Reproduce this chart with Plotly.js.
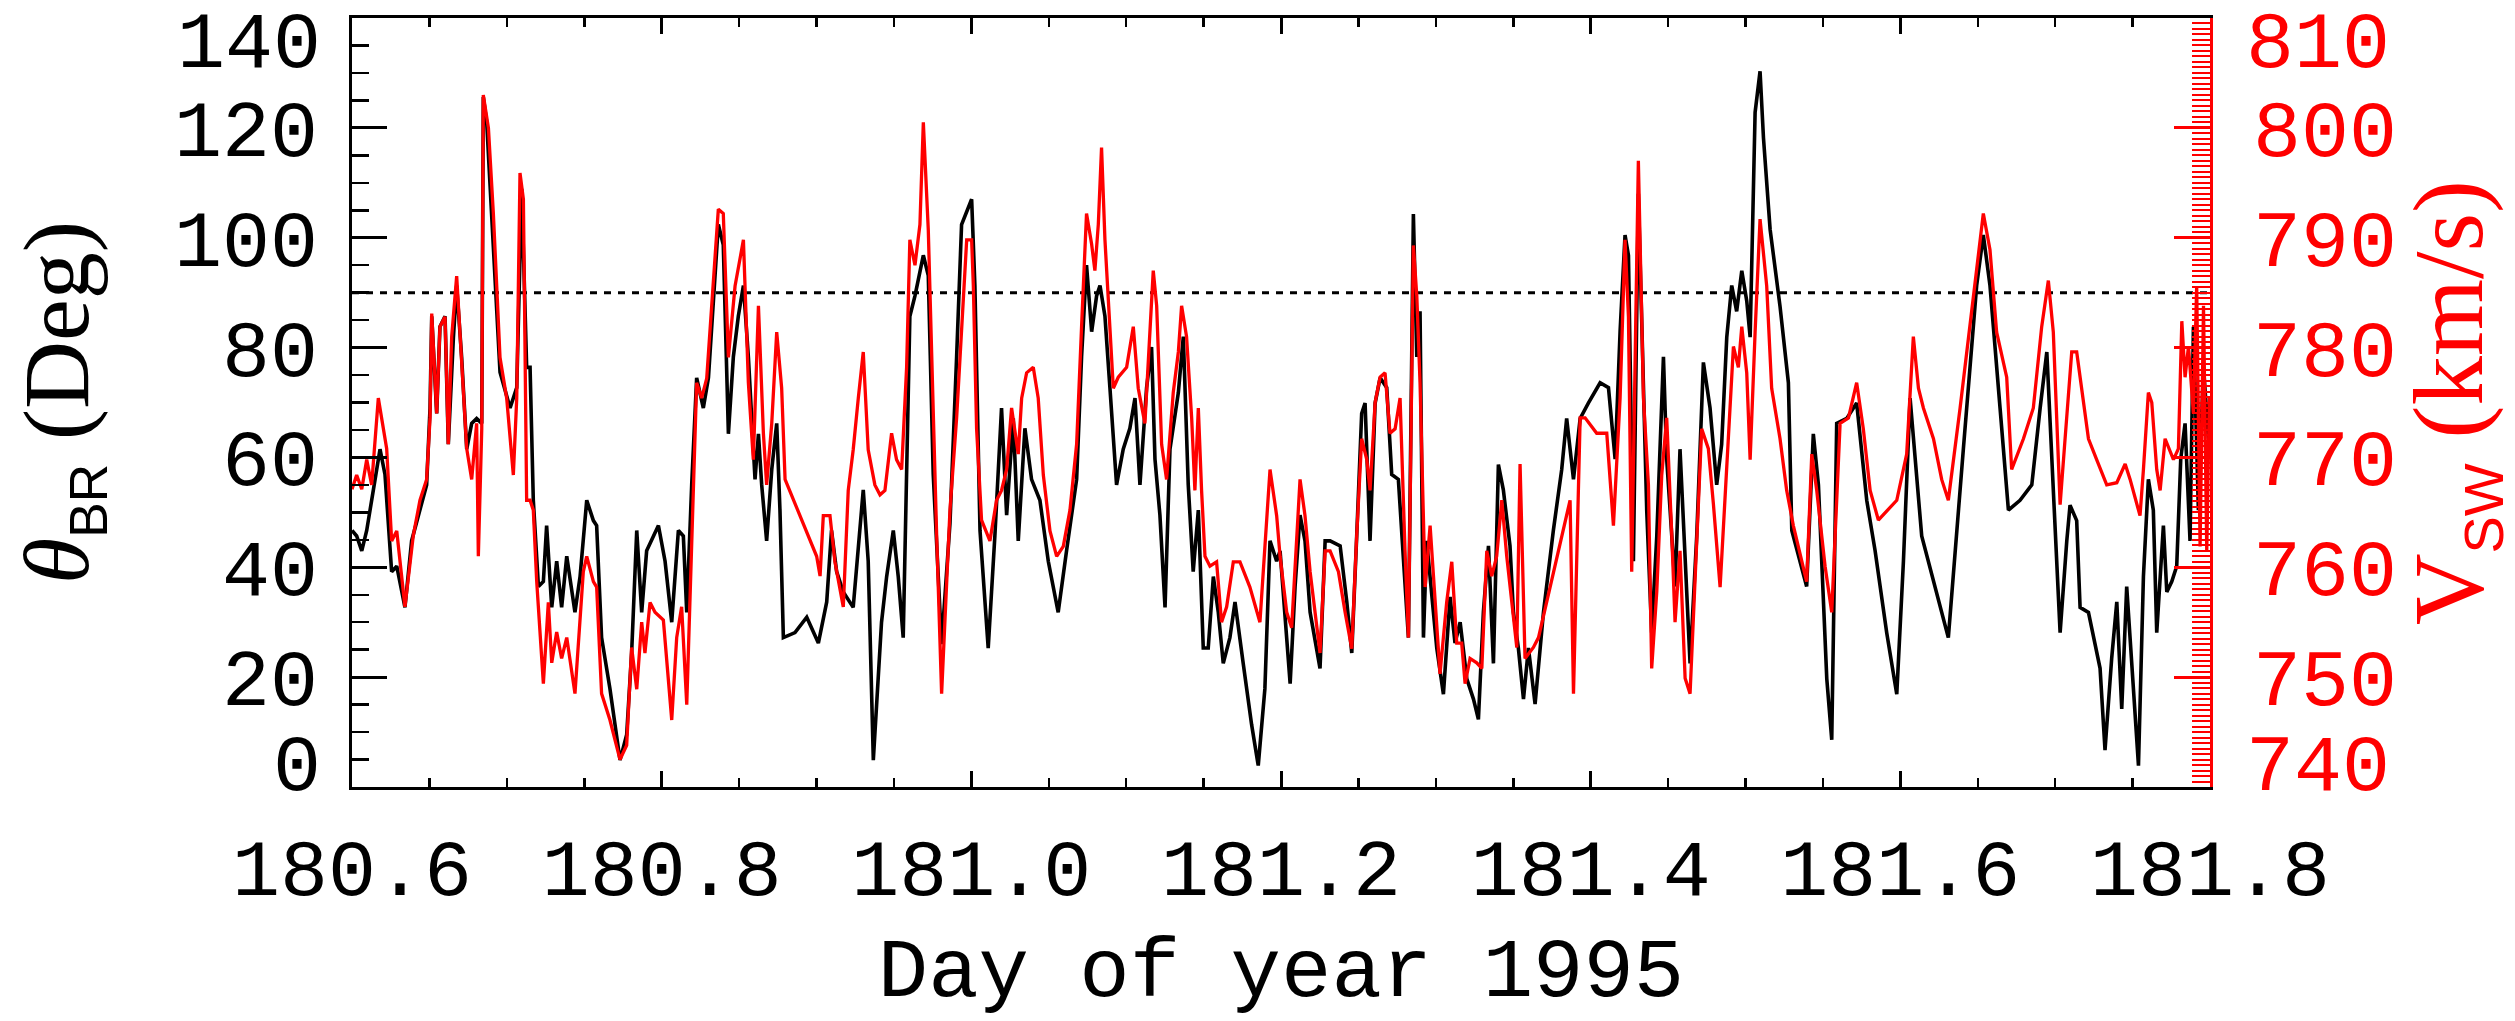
<!DOCTYPE html>
<html>
<head>
<meta charset="utf-8">
<script src="https://cdn.plot.ly/plotly-3.0.1.min.js"></script>
<style>
html,body{margin:0;padding:0;background:#fff;}
#chart{width:2515px;height:1021px;}
</style>
</head>
<body>
<div id="chart"></div>
<script>
// ---- Data ----
// Black series: theta_BR (deg) vs day of year 1995
const dayB = [
180.6000,180.6030,180.6063,180.6095,180.6138,180.6181,180.6213,180.6256,180.6289,180.6342,180.6385,180.6439,180.6482,180.6504,180.6515,180.6547,180.6568,180.6601,180.6622,180.6655,180.6676,180.6708,180.6741,180.6773,180.6805,180.6838,180.6848,180.6870,180.6913,180.6956,180.7021,180.7064,180.7096,180.7128,180.7150,180.7171,180.7204,180.7236,180.7257,180.7290,180.7322,180.7354,180.7387,180.7440,180.7473,180.7516,180.7559,180.7580,180.7612,180.7666,180.7731,180.7774,180.7806,180.7839,180.7871,180.7903,180.7979,180.8022,180.8065,180.8108,180.8140,180.8162,180.8194,180.8226,180.8269,180.8302,180.8366,180.8398,180.8431,180.8463,180.8495,180.8528,180.8560,180.8603,180.8625,180.8646,180.8678,180.8711,180.8743,180.8764,180.8786,180.8861,180.8937,180.9012,180.9066,
180.9097,180.9130,180.9173,180.9237,180.9302,180.9334,180.9367,180.9420,180.9453,180.9496,180.9528,180.9560,180.9582,180.9603,180.9636,180.9668,180.9690,180.9722,180.9754,180.9808,180.9862,180.9905,180.9937,181.0002,181.0023,181.0056,181.0109,181.0152,181.0195,181.0228,181.0271,181.0303,181.0346,181.0389,181.0443,181.0497,181.0561,181.0615,181.0680,181.0712,181.0744,181.0777,181.0809,181.0831,181.0863,181.0895,181.0938,181.0981,181.1024,181.1057,181.1089,181.1132,181.1164,181.1186,181.1218,181.1251,181.1283,181.1337,181.1369,181.1401,181.1433,181.1466,181.1498,181.1530,181.1563,181.1595,181.1627,181.1670,181.1703,181.1756,181.1810,181.1853,181.1896,181.1929,181.1972,
181.1994,181.2026,181.2059,181.2091,181.2123,181.2155,181.2188,181.2252,181.2285,181.2317,181.2382,181.2425,181.2457,181.2489,181.2521,181.2543,181.2575,181.2608,181.2640,181.2683,181.2715,181.2758,181.2823,181.2855,181.2877,181.2898,181.2920,181.2941,181.2974,181.3006,181.3049,181.3092,181.3124,181.3157,181.3200,181.3243,181.3275,181.3307,181.3340,181.3372,181.3404,181.3436,181.3479,181.3501,181.3533,181.3566,181.3598,181.3641,181.3695,181.3759,181.3813,181.3845,181.3889,181.3932,181.3985,181.4061,181.4115,181.4158,181.4190,181.4222,181.4244,181.4276,181.4308,181.4330,181.4362,181.4394,181.4427,181.4470,181.4491,181.4513,181.4545,181.4577,181.4610,181.4642,181.4685,181.4728,181.4771,181.4814,181.4846,181.4879,181.4911,181.4943,181.4976,181.5008,181.5030,181.5062,181.5094,
181.5116,181.5159,181.5223,181.5277,181.5299,181.5395,181.5438,181.5471,181.5525,181.5557,181.5589,181.5654,181.5718,181.5783,181.5837,181.5912,181.5977,181.6020,181.6063,181.6138,181.6213,181.6310,181.6407,181.6493,181.6536,181.6579,181.6644,181.6698,181.6773,181.6849,181.6903,181.6946,181.6988,181.7032,181.7075,181.7096,181.7139,181.7161,181.7215,181.7268,181.7290,181.7322,181.7365,181.7398,181.7430,181.7462,181.7495,181.7538,181.7570,181.7602,181.7634,181.7656,181.7699,181.7721,181.7753,181.7785,181.7811,181.7839,181.7871,181.7893,181.7925,181.7958,181.7990
];
const thetaB = [
46.7,45.7,43.0,46.7,54.1,61.5,56.9,39.2,40.2,32.7,44.8,50.4,55.0,69.0,85.7,68.0,83.8,85.7,62.4,81.9,91.3,78.3,61.5,66.2,67.1,66.2,125.6,121.0,99.6,75.5,69.0,72.7,108.9,76.4,76.4,52.2,36.5,37.4,47.6,32.7,41.1,32.7,42.0,31.8,38.3,52.2,48.5,47.6,27.2,17.9,4.9,9.5,24.4,46.7,31.8,43.0,47.6,41.1,30.0,46.7,45.7,31.8,55.0,74.5,69.0,74.5,102.4,98.7,64.3,78.3,85.7,91.3,78.3,56.0,64.3,55.0,44.8,57.8,66.2,50.4,27.2,28.1,30.9,26.2,33.7,
46.7,39.2,35.5,32.7,54.1,41.1,4.9,30.0,38.3,46.7,38.3,27.2,59.7,85.7,89.4,94.0,96.8,93.1,56.9,26.0,48.0,78.3,102.4,107.0,91.3,46.7,25.3,45.7,69.0,49.5,67.1,44.8,65.3,56.0,52.2,41.1,31.8,43.0,56.0,78.3,95.0,82.9,89.4,91.3,85.7,72.7,55.0,61.5,65.3,70.8,55.0,72.7,80.1,59.7,49.5,32.7,61.5,71.8,82.0,55.0,39.2,50.4,25.3,25.3,38.3,31.8,22.5,27.2,33.7,22.5,11.4,3.9,17.9,44.8,41.1,
43.0,31.8,18.8,36.5,49.5,44.8,31.8,21.6,44.8,44.8,43.9,33.7,24.4,45.7,68.0,69.9,44.8,69.9,74.5,72.7,56.9,56.0,27.2,104.3,78.3,86.6,27.2,44.8,34.6,25.3,16.9,34.6,26.2,30.0,19.7,16.0,12.3,31.8,43.9,22.5,58.7,54.1,43.9,31.8,25.3,16.0,25.3,15.1,31.8,46.7,57.8,67.1,56.0,67.1,69.9,73.6,72.7,59.7,82.9,100.5,96.8,41.1,108.0,85.7,50.4,28.1,45.7,78.3,59.7,50.4,36.5,61.5,41.1,22.5,45.7,77.3,69.0,55.0,62.4,81.9,91.3,86.6,94.0,88.5,81.9,122.8,130.3,
118.2,101.5,87.5,73.6,46.7,36.5,64.3,55.0,19.7,8.6,66.2,67.1,69.9,52.2,43.0,28.1,16.9,41.1,70.8,45.7,37.4,27.2,61.5,91.3,100.5,91.3,69.0,50.4,52.2,55.0,69.0,79.2,54.1,28.1,44.8,51.3,48.5,32.7,31.8,24.4,21.6,6.7,23.4,33.7,14.2,36.5,22.5,3.9,38.3,56.0,50.4,28.1,47.6,35.5,37.4,40.2,59.7,66.2,44.8,83.8,50.4,76.4,63.4
];
// Red series: solar wind speed V_SW (km/s) vs day of year 1995
const dayR = [
180.6000,180.6030,180.6063,180.6095,180.6127,180.6170,180.6224,180.6256,180.6289,180.6342,180.6396,180.6439,180.6482,180.6504,180.6515,180.6547,180.6568,180.6601,180.6622,180.6644,180.6676,180.6708,180.6741,180.6773,180.6805,180.6816,180.6838,180.6848,180.6881,180.6913,180.6956,180.6999,180.7042,180.7064,180.7085,180.7107,180.7128,180.7150,180.7171,180.7193,180.7236,180.7268,180.7290,180.7322,180.7354,180.7387,180.7440,180.7494,180.7516,180.7559,180.7580,180.7612,180.7666,180.7731,180.7774,180.7806,180.7839,180.7871,180.7892,180.7925,180.7957,180.8011,180.8065,180.8097,180.8129,180.8162,180.8194,180.8226,180.8258,180.8291,180.8366,180.8398,180.8431,180.8474,180.8528,180.8560,180.8592,180.8625,180.8657,180.8678,180.8711,180.8743,180.8775,180.8797,180.9001,180.9023,180.9044,180.9087,
180.9119,180.9151,180.9173,180.9205,180.9237,180.9270,180.9302,180.9334,180.9377,180.9410,180.9442,180.9485,180.9517,180.9550,180.9582,180.9603,180.9636,180.9668,180.9690,180.9722,180.9743,180.9776,180.9808,180.9830,180.9862,180.9905,180.9937,180.9970,181.0002,181.0013,181.0034,181.0066,181.0120,181.0163,181.0195,181.0228,181.0260,181.0303,181.0325,181.0357,181.0400,181.0432,181.0465,181.0508,181.0551,181.0594,181.0637,181.0680,181.0712,181.0744,181.0777,181.0798,181.0820,181.0841,181.0863,181.0895,181.0917,181.0949,181.1003,181.1046,181.1078,181.1121,181.1143,181.1175,181.1197,181.1229,181.1261,181.1304,181.1337,181.1358,181.1390,181.1423,181.1444,181.1466,181.1487,181.1509,181.1541,181.1584,181.1616,181.1649,181.1692,181.1735,181.1799,181.1864,181.1929,181.1972,
181.1994,181.2037,181.2069,181.2091,181.2123,181.2155,181.2188,181.2252,181.2285,181.2317,181.2371,181.2414,181.2457,181.2489,181.2521,181.2554,181.2575,181.2608,181.2640,181.2672,181.2704,181.2737,181.2769,181.2801,181.2823,181.2855,181.2877,181.2898,181.2931,181.2963,181.2995,181.3027,181.3070,181.3103,181.3135,181.3167,181.3189,181.3221,181.3264,181.3297,181.3329,181.3361,181.3393,181.3426,181.3458,181.3490,181.3523,181.3544,181.3576,181.3630,181.3663,181.3867,181.3889,181.3932,181.3964,181.4039,181.4104,181.4147,181.4190,181.4222,181.4244,181.4265,181.4308,181.4341,181.4373,181.4394,181.4427,181.4459,181.4491,181.4524,181.4545,181.4577,181.4610,181.4642,181.4685,181.4717,181.4760,181.4793,181.4836,181.4879,181.4922,181.4954,181.4976,181.5008,181.5030,181.5062,181.5094,
181.5137,181.5169,181.5223,181.5266,181.5309,181.5395,181.5428,181.5460,181.5514,181.5557,181.5611,181.5665,181.5718,181.5761,181.5805,181.5858,181.5977,181.6041,181.6084,181.6117,181.6149,181.6214,181.6267,181.6310,181.6386,181.6450,181.6536,181.6579,181.6622,181.6687,181.6719,181.6795,181.6859,181.6913,181.6956,181.6988,181.7032,181.7064,181.7107,181.7139,181.7172,181.7215,181.7268,181.7333,181.7398,181.7452,181.7484,181.7548,181.7570,181.7602,181.7624,181.7656,181.7678,181.7710,181.7764,181.7796,181.7818,181.7839,181.7861,181.7893,181.7914,181.7936,181.7958,181.7979,181.7996
];
const vswR = [
767.1,768.4,767.1,769.8,767.5,775.4,770.8,762.4,763.3,756.4,762.9,766.1,768.0,773.6,783.1,774.0,781.9,782.8,771.2,781.0,786.5,779.1,770.8,768.0,773.1,761.0,772.6,803.0,800.0,792.2,779.1,775.4,768.4,775.4,795.9,793.5,766.1,766.1,765.2,758.7,749.4,756.8,751.3,754.1,751.7,753.6,748.5,759.6,761.0,758.7,758.2,748.5,746.1,742.5,743.8,752.7,748.9,755.0,752.2,756.8,755.9,755.2,746.1,753.6,756.4,747.5,763.3,776.8,775.4,777.2,792.6,792.2,779.1,785.6,789.8,776.8,769.8,783.8,772.2,767.5,773.1,781.4,776.3,768.0,761.0,759.2,764.7,764.7,
760.5,758.2,756.4,767.0,770.7,775.4,779.6,770.7,767.5,766.6,767.0,772.2,769.8,768.9,778.2,789.8,787.5,791.2,800.5,790.7,779.1,762.9,748.5,755.9,765.2,773.6,781.9,789.8,789.8,785.6,772.6,764.3,762.4,766.1,767.0,768.9,774.5,770.3,775.4,777.7,778.2,775.4,768.4,763.3,761.0,761.9,765.2,771.2,781.9,792.2,789.4,787.0,791.2,798.2,789.8,782.4,776.3,777.3,778.2,781.9,776.3,773.1,778.7,787.0,783.8,771.2,768.0,775.9,779.6,783.8,781.0,773.6,767.0,774.5,767.0,761.0,760.1,760.5,755.0,756.4,760.5,760.5,758.2,755.0,768.9,764.7,
761.0,755.9,754.5,759.6,768.0,764.7,759.6,752.2,761.5,761.5,759.6,755.9,752.6,762.9,771.7,769.8,767.0,775.0,777.3,777.7,772.2,772.6,775.4,761.5,753.6,789.3,784.7,776.8,758.2,763.8,756.8,750.3,756.8,760.5,753.1,753.1,749.4,751.7,751.3,750.8,761.5,759.2,761.0,766.1,761.0,756.8,752.7,769.4,751.7,752.7,753.6,766.1,748.5,773.6,773.6,772.2,772.2,763.8,775.4,789.8,782.8,759.6,797.0,775.4,767.5,750.8,757.8,768.4,773.6,762.9,755.0,761.5,749.9,748.5,762.9,772.6,770.8,765.7,758.2,769.8,780.1,778.2,781.9,777.7,769.8,781.4,791.7,
785.6,776.3,771.7,767.0,763.8,758.7,770.3,767.0,760.1,755.9,773.1,773.6,776.8,772.6,767.0,764.3,766.1,770.3,781.0,776.3,774.5,771.7,768.0,766.1,774.5,781.9,792.2,788.9,781.4,777.3,768.9,771.7,774.5,781.9,786.1,781.4,765.7,771.7,779.6,779.6,776.3,771.7,769.8,767.5,767.7,769.4,768.0,764.7,768.9,775.9,775.0,768.9,767.0,771.7,769.8,770.8,782.4,777.3,780.1,774.0,785.6,761.9,783.8,761.5,775.4
];
// Axis ticks and labels
const xTickVals = [180.6, 180.8, 181.0, 181.2, 181.4, 181.6, 181.8];
const xTickText = ['180.6', '180.8', '181.0', '181.2', '181.4', '181.6', '181.8'];
const yTickVals = [20, 40, 60, 80, 100, 120];
const yTickText = ['20', '40', '60', '80', '100', '120'];
const y2TickVals = [750, 760, 770, 780, 790, 800];
const y2TickText = ['750', '760', '770', '780', '790', '800'];
const yEndVals = [0, 140];
const yEndLabels = ['0', '140'];
const y2EndVals = [740, 810];
const y2EndLabels = ['740', '810'];
const thetaRef = 90;

// ---- Styles ----
const RED = '#ff0000';
const MONO = 'Liberation Mono, Courier New, monospace';
const SERIF = 'Liberation Serif, Times New Roman, serif';
const tickFontK = {family: MONO, size: 80, color: '#000'};
const tickFontR = {family: MONO, size: 80, color: RED};
const TITLE_SIZE = 92, SUB_SIZE = 52;
// wanted lengths (px) of the rotated axis titles, as measured on the reference
const titleLen = {yaxis: 363, yaxis2: 445};
function leftTitle(sub) {
  return '<i>θ</i><sub><span style="font-family:Liberation Sans;font-size:' + sub.toFixed(1) + 'px">BR</span></sub> (Deg)';
}
function rightTitle(sub) {
  return 'V<sub><span style="font-family:Liberation Sans;font-size:' + sub.toFixed(1) + 'px">SW</span></sub> (km/s)';
}

const traces = [
  {x: dayB, y: thetaB, type: 'scatter', mode: 'lines', yaxis: 'y',
   line: {color: '#000', width: 3.6}, hoverinfo: 'skip'},
  {x: dayR, y: vswR, type: 'scatter', mode: 'lines', yaxis: 'y2',
   line: {color: RED, width: 3.3}, hoverinfo: 'skip'}
];

const layout = {
  width: 2515, height: 1021,
  margin: {l: 352, r: 305, t: 18, b: 234, pad: 0},
  paper_bgcolor: '#fff', plot_bgcolor: '#fff',
  showlegend: false,
  xaxis: {
    range: [180.6, 181.8], autorange: false,
    tickmode: 'array', tickvals: xTickVals, ticktext: xTickText,
    ticks: 'inside', ticklen: 16, tickwidth: 3, tickcolor: '#000',
    minor: {tickmode: 'linear', tick0: 180.6, dtick: 0.05, ticks: 'inside', ticklen: 9, tickwidth: 2.5, tickcolor: '#000', showgrid: false},
    showline: true, linewidth: 3, linecolor: '#000', mirror: 'ticks',
    showgrid: false, zeroline: false,
    tickfont: tickFontK, ticklabelstandoff: 9,
    title: {text: 'Day of year 1995', font: {family: MONO, size: 84, color: '#000'}, standoff: 51},
    automargin: false
  },
  yaxis: {
    range: [0, 140], autorange: false,
    tickmode: 'array', tickvals: yTickVals, ticktext: yTickText,
    ticks: 'inside', ticklen: 35, tickwidth: 3, tickcolor: '#000',
    minor: {tickmode: 'linear', tick0: 0, dtick: 5, ticks: 'inside', ticklen: 17, tickwidth: 2.5, tickcolor: '#000', showgrid: false},
    showline: true, linewidth: 3, linecolor: '#000', mirror: false,
    showgrid: false, zeroline: false,
    tickfont: tickFontK, ticklabelstandoff: 15,
    title: {text: leftTitle(SUB_SIZE), font: {family: SERIF, size: TITLE_SIZE, color: '#000'}, standoff: 55},
    automargin: false
  },
  yaxis2: {
    range: [740, 810], autorange: false, overlaying: 'y', side: 'right', anchor: 'x',
    tickmode: 'array', tickvals: y2TickVals, ticktext: y2TickText,
    ticks: 'inside', ticklen: 36, tickwidth: 3, tickcolor: RED,
    minor: {tickmode: 'linear', tick0: 740, dtick: 0.5, ticks: 'inside', ticklen: 18, tickwidth: 2, tickcolor: RED, showgrid: false},
    showline: true, linewidth: 3, linecolor: RED,
    showgrid: false, zeroline: false,
    tickfont: tickFontR, ticklabelstandoff: 24,
    title: {text: rightTitle(SUB_SIZE), font: {family: SERIF, size: TITLE_SIZE, color: RED}, standoff: 15},
    automargin: false
  },
  shapes: [
    {type: 'line', xref: 'paper', x0: 0, x1: 1, yref: 'y', y0: thetaRef, y1: thetaRef,
     line: {color: '#000', width: 3, dash: '7px,7px'}, layer: 'below'}
  ],
  annotations: [
    {xref: 'paper', x: 0, xanchor: 'right', xshift: -30, yref: 'y', y: yEndVals[0], yanchor: 'middle', yshift: 19,
     text: yEndLabels[0], showarrow: false, font: tickFontK, borderpad: 0},
    {xref: 'paper', x: 0, xanchor: 'right', xshift: -30, yref: 'y', y: yEndVals[1], yanchor: 'middle', yshift: -27,
     text: yEndLabels[1], showarrow: false, font: tickFontK, borderpad: 0},
    {xref: 'paper', x: 1, xanchor: 'left', xshift: 35, yref: 'y2', y: y2EndVals[0], yanchor: 'middle', yshift: 19,
     text: y2EndLabels[0], showarrow: false, font: tickFontR, borderpad: 0},
    {xref: 'paper', x: 1, xanchor: 'left', xshift: 35, yref: 'y2', y: y2EndVals[1], yanchor: 'middle', yshift: -27,
     text: y2EndLabels[1], showarrow: false, font: tickFontR, borderpad: 0}
  ]
};

Plotly.newPlot('chart', traces, layout, {staticPlot: true, displayModeBar: false}).then(function(gd) {
  // Fit the two rotated axis titles to the lengths they have on the reference.
  const upd = {};
  [['yaxis', '.ytitle', leftTitle], ['yaxis2', '.y2title', rightTitle]].forEach(function(a) {
    const el = gd.querySelector(a[1]);
    if (!el || !el.getBBox) return;
    const len = el.getBBox().width;
    if (!(len > 50)) return;
    let k = titleLen[a[0]] / len;
    k = Math.max(0.85, Math.min(1.25, k));
    if (Math.abs(k - 1) < 0.02) return;
    upd[a[0] + '.title.font.size'] = TITLE_SIZE * k;
    upd[a[0] + '.title.text'] = a[2](SUB_SIZE * k);
  });
  if (Object.keys(upd).length) return Plotly.relayout(gd, upd);
});
</script>
</body>
</html>
